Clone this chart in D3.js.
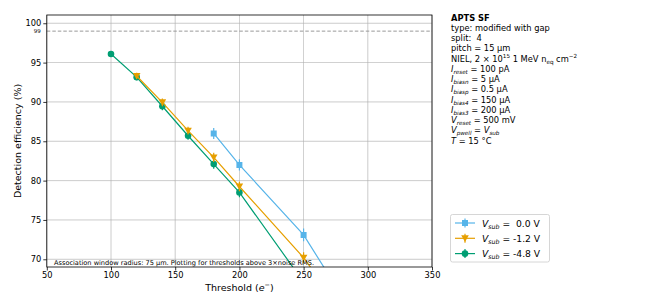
<!DOCTYPE html>
<html><head><meta charset="utf-8">
<script src="https://cdn.jsdelivr.net/npm/d3@7"></script>
<style>body{margin:0;background:#fff}svg{display:block;font-family:"DejaVu Sans",sans-serif}text{white-space:pre}</style>
</head><body><svg id="c" width="664" height="307"></svg>
<script>
const thresholds0 = [180, 200, 250, 300];
const eff0 = [86.0, 82.0, 73.1, 60.1];
const err0 = [0.7, 0.7, 0.8, 0.8];
const thresholds1 = [120, 140, 160, 180, 200, 250, 300];
const eff1 = [93.3, 89.95, 86.35, 82.95, 79.25, 70.2, 59.0];
const err1 = [0.4, 0.5, 0.5, 0.6, 0.6, 0.7, 0.8];
const thresholds2 = [100, 120, 140, 160, 180, 200, 250];
const eff2 = [96.1, 93.15, 89.45, 85.7, 82.1, 78.5, 67.1];
const err2 = [0.3, 0.4, 0.5, 0.5, 0.6, 0.6, 0.7];
const legendValues = [" =  0.0 V", " = -1.2 V", " = -4.8 V"];
const colors = ["#56B4E9", "#E69F00", "#009E73"];
const xTicks = [50, 100, 150, 200, 250, 300, 350];
const yTicks = [70, 75, 80, 85, 90, 95, 100];

const svg = d3.select("#c");
const L = 46.8, R = 432, T = 15, B = 267;
const x = d3.scaleLinear().domain([50, 350]).range([L, R]);
const y = d3.scaleLinear().domain([69.02, 101.05]).range([B, T]);

const g = svg.append("g");
g.selectAll(".gx").data(xTicks).enter().append("line")
  .attr("x1", d => x(d)).attr("x2", d => x(d)).attr("y1", T).attr("y2", B)
  .attr("stroke", "#b0b0b0").attr("stroke-width", 0.8).attr("opacity", 0.8);
g.selectAll(".gy").data(yTicks).enter().append("line")
  .attr("x1", L).attr("x2", R).attr("y1", d => y(d)).attr("y2", d => y(d))
  .attr("stroke", "#b0b0b0").attr("stroke-width", 0.8).attr("opacity", 0.8);

svg.append("line").attr("x1", L).attr("x2", R).attr("y1", y(99)).attr("y2", y(99))
  .attr("stroke", "#999").attr("stroke-width", 1).attr("stroke-dasharray", "3.5,2");

svg.append("clipPath").attr("id", "clp").append("rect")
  .attr("x", L).attr("y", T).attr("width", R - L).attr("height", B - T);
const series = [
  {xs: thresholds0, ys: eff0, es: err0, sym: "sq"},
  {xs: thresholds1, ys: eff1, es: err1, sym: "tri"},
  {xs: thresholds2, ys: eff2, es: err2, sym: "circ"}
];
const plot = svg.append("g").attr("clip-path", "url(#clp)");
function marker(sel, sym, color, cx, cy) {
  if (sym === "tri") {
    sel.append("path").attr("d", `M${cx - 3.8},${cy - 3} L${cx + 3.8},${cy - 3} L${cx},${cy + 3.6} Z`).attr("fill", color);
  } else if (sym === "sq") {
    sel.append("path").attr("d", d3.symbol().type(d3.symbolSquare).size(36)()).attr("transform", `translate(${cx},${cy})`).attr("fill", color);
  } else {
    sel.append("path").attr("d", d3.symbol().type(d3.symbolCircle).size(34)()).attr("transform", `translate(${cx},${cy})`).attr("fill", color);
  }
}
[2, 1, 0].forEach(i => {
  const s = series[i];
  const pts = s.xs.map((t, j) => [t, s.ys[j], s.es[j]]);
  plot.append("path").datum(pts)
    .attr("d", d3.line().x(d => x(d[0])).y(d => y(d[1])))
    .attr("fill", "none").attr("stroke", colors[i]).attr("stroke-width", 1.2);
  pts.forEach(p => {
    plot.append("line").attr("x1", x(p[0])).attr("x2", x(p[0]))
      .attr("y1", y(p[1] - p[2])).attr("y2", y(p[1] + p[2]))
      .attr("stroke", colors[i]).attr("stroke-width", 1.2);
    marker(plot, s.sym, colors[i], x(p[0]), y(p[1]));
  });
});

svg.append("rect").attr("x", L).attr("y", T).attr("width", R - L).attr("height", B - T)
  .attr("fill", "none").attr("stroke", "#000").attr("stroke-width", 0.8);

const xa = svg.append("g").attr("transform", `translate(0,${B})`)
  .call(d3.axisBottom(x).tickValues(xTicks).tickSize(3.5).tickPadding(2).tickFormat(d3.format("d")));
const ya = svg.append("g").attr("transform", `translate(${L},0)`)
  .call(d3.axisLeft(y).tickValues(yTicks).tickSize(3.5).tickPadding(2).tickFormat(d3.format("d")));
[xa, ya].forEach(a => {
  a.select(".domain").remove();
  a.selectAll("text").attr("font-size", 8.3).attr("fill", "#000").attr("font-family", "DejaVu Sans");
  a.selectAll("line").attr("stroke", "#000").attr("stroke-width", 0.8);
});
svg.append("text").attr("x", L - 6).attr("y", y(99) + 2).attr("text-anchor", "end")
  .attr("font-size", 5.5).text("99");

function rich(sel, parts, base) {
  let cur = 0;
  parts.forEach(([t, o]) => {
    o = o || {};
    const ts = sel.append("tspan").text(t);
    let target = o.sub ? base * 0.25 : (o.sup ? -base * 0.4 : 0);
    ts.attr("dy", target - cur); cur = target;
    if (o.sub || o.sup) ts.attr("font-size", base * 0.68);
    if (o.it) ts.attr("font-style", "italic");
    if (o.bold) ts.attr("font-weight", "bold");
  });
}

const xl = svg.append("text").attr("x", x(200)).attr("y", 291).attr("text-anchor", "middle").attr("font-size", 9.5);
rich(xl, [["Threshold ("], ["e", {it: true}], ["−", {sup: true}], [")"]], 9.5);
svg.append("text").attr("transform", `translate(21,${(T + B) / 2}) rotate(-90)`).attr("text-anchor", "middle")
  .attr("font-size", 9.5).text("Detection efficiency (%)");

svg.append("text").attr("x", 54).attr("y", 265).attr("font-size", 6.6)
  .text("Association window radius: 75 µm. Plotting for thresholds above 3×noise RMS.");

const info = [
  [["APTS SF", {bold: true}]],
  [["type: modified with gap"]],
  [["split:  4"]],
  [["pitch = 15 µm"]],
  [["NIEL, 2 × 10"], ["15", {sup: true}], [" 1 MeV n"], ["eq", {sub: true}], [" cm"], ["−2", {sup: true}]],
  [["I", {it: true}], ["reset", {sub: true, it: true}], [" = 100 pA"]],
  [["I", {it: true}], ["biasn", {sub: true, it: true}], [" = 5 µA"]],
  [["I", {it: true}], ["biasp", {sub: true, it: true}], [" = 0.5 µA"]],
  [["I", {it: true}], ["bias4", {sub: true, it: true}], [" = 150 µA"]],
  [["I", {it: true}], ["bias3", {sub: true, it: true}], [" = 200 µA"]],
  [["V", {it: true}], ["reset", {sub: true, it: true}], [" = 500 mV"]],
  [["V", {it: true}], ["pwell", {sub: true, it: true}], [" = "], ["V", {it: true}], ["sub", {sub: true, it: true}]],
  [["T", {it: true}], [" = 15 °C"]]
];
info.forEach((parts, i) => {
  const t = svg.append("text").attr("x", 451).attr("y", 20.5 + i * 10.25).attr("font-size", 8.3);
  rich(t, parts, 8.3);
});

const lg = svg.append("g");
lg.append("rect").attr("x", 450.5).attr("y", 214.5).attr("width", 99).attr("height", 47.5).attr("rx", 2)
  .attr("fill", "#fff").attr("stroke", "#ccc").attr("stroke-width", 0.8);
legendValues.forEach((v, i) => {
  const cy = 223 + i * 15.3;
  lg.append("line").attr("x1", 455).attr("x2", 475).attr("y1", cy).attr("y2", cy).attr("stroke", colors[i]).attr("stroke-width", 1.2);
  lg.append("line").attr("x1", 465).attr("x2", 465).attr("y1", cy - 4.5).attr("y2", cy + 4.5).attr("stroke", colors[i]).attr("stroke-width", 1.2);
  marker(lg, series[i].sym, colors[i], 465, cy);
  const t = lg.append("text").attr("x", 482).attr("y", cy + 3.5).attr("font-size", 9.2);
  rich(t, [["V", {it: true}], ["sub", {sub: true, it: true}], [v]], 9.2);
});
</script></body></html>
